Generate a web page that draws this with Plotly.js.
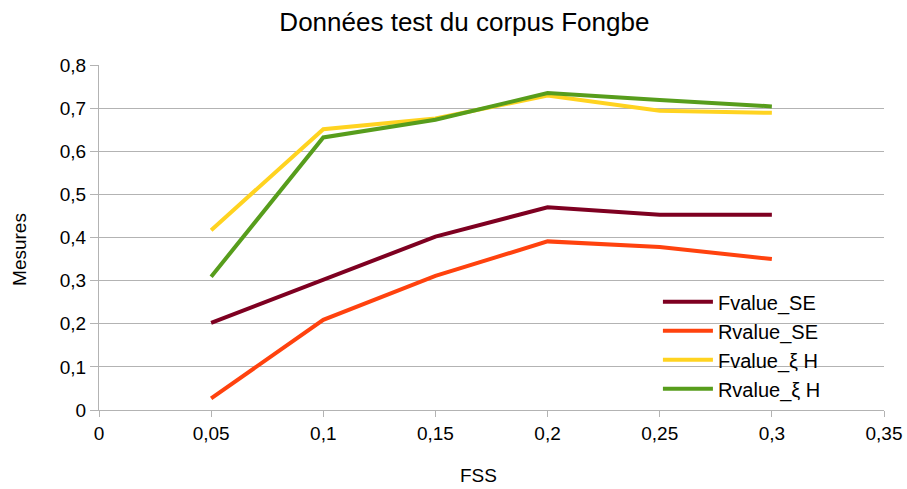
<!DOCTYPE html>
<html><head><meta charset="utf-8">
<script src="https://cdn.plot.ly/plotly-3.0.1.min.js"></script>
<style>html,body{margin:0;padding:0;background:#fff}#chart{width:907px;height:489px}</style>
</head><body><div id="chart"></div>
<script>
const fss = [0.05, 0.1, 0.15, 0.2, 0.25, 0.3];
const fvalueSE = [0.202, 0.302, 0.402, 0.470, 0.453, 0.453];
const rvalueSE = [0.027, 0.209, 0.311, 0.391, 0.378, 0.350];
const fvalueXiH = [0.417, 0.651, 0.676, 0.729, 0.694, 0.689];
const rvalueXiH = [0.309, 0.632, 0.673, 0.735, 0.719, 0.704];
const seriesNames = ["Fvalue_SE", "Rvalue_SE", "Fvalue_ξ H", "Rvalue_ξ H"];
const seriesColors = ["#7e0021", "#ff420e", "#ffd320", "#579d1c"];
const seriesValues = [fvalueSE, rvalueSE, fvalueXiH, rvalueXiH];
const xTitle = "FSS";
const yTitle = "Mesures";

const traces = seriesValues.map((v, i) => ({
  x: fss, y: v, type: 'scatter', mode: 'lines', name: seriesNames[i],
  line: {color: seriesColors[i], width: 4}
}));

const font = {family: 'Liberation Sans, Arial, sans-serif', color: '#000'};
const layout = {
  width: 907, height: 489,
  separators: ', ',
  margin: {l: 99, r: 23, t: 65, b: 79},
  paper_bgcolor: '#fff', plot_bgcolor: '#fff',
  font: Object.assign({size: 19}, font),
  title: {text: 'Données test du corpus Fongbe', font: Object.assign({}, font, {size: 26}), x: 0.512, xanchor: 'center', y: 0.955, yanchor: 'middle'},
  xaxis: {
    range: [0, 0.35], dtick: 0.05, tick0: 0,
    showgrid: false, zeroline: false,
    showline: true, linecolor: '#b3b3b3', linewidth: 1,
    ticks: 'outside', ticklen: 6, tickcolor: '#b3b3b3',
    tickfont: Object.assign({}, font, {size: 19})
  },
  yaxis: {
    range: [0, 0.8], dtick: 0.1, tick0: 0,
    showgrid: true, gridcolor: '#b3b3b3', gridwidth: 1, zeroline: false,
    showline: true, linecolor: '#b3b3b3', linewidth: 1,
    ticks: 'outside', ticklen: 8, tickcolor: '#b3b3b3',
    tickfont: Object.assign({}, font, {size: 19})
  },
  annotations: [
    {text: xTitle, xref: 'paper', yref: 'paper', x: 0.483, y: -0.191, xanchor: 'center', yanchor: 'middle', showarrow: false, font: Object.assign({}, font, {size: 19})},
    {text: yTitle, xref: 'paper', yref: 'paper', x: -0.1006, y: 0.464, xanchor: 'center', yanchor: 'middle', textangle: -90, showarrow: false, font: Object.assign({}, font, {size: 19})}
  ],
  showlegend: true,
  legend: {
    x: 0.712, y: 0.37, xanchor: 'left', yanchor: 'top',
    bgcolor: 'rgba(0,0,0,0)', borderwidth: 0,
    font: Object.assign({}, font, {size: 20}),
    itemwidth: 50, tracegroupgap: 0
  }
};
Plotly.newPlot('chart', traces, layout, {displayModeBar: false, staticPlot: true});
</script></body></html>
